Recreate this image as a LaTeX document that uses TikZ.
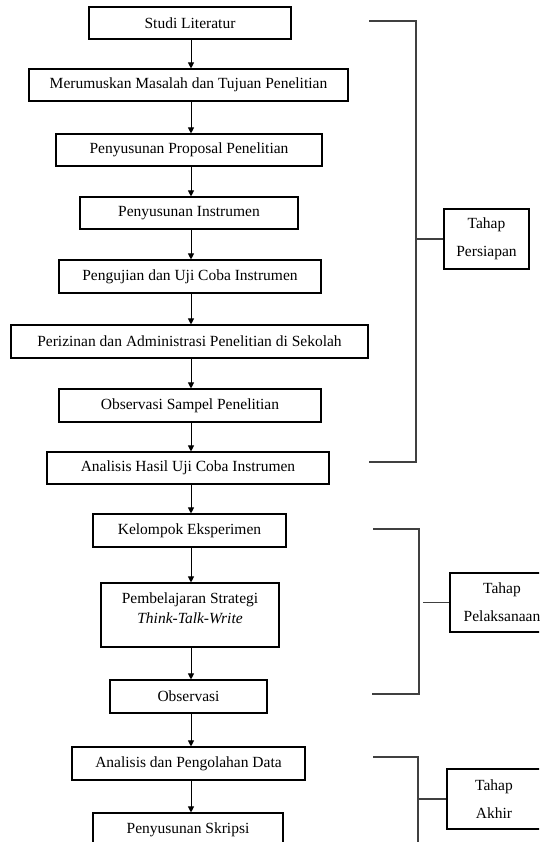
\documentclass[tikz,border=0pt]{standalone}
\usepackage{fontspec}
\setmainfont{Liberation Serif}
\usetikzlibrary{arrows.meta}
\begin{document}
\begin{tikzpicture}[x=1pt,y=-1pt,
  box/.style={draw=black,line width=1.1pt,inner sep=0pt,align=center,font=\fontsize{15.5}{28}\selectfont},
  arr/.style={draw=black,line width=0.9pt,-{Triangle[length=6pt,width=6pt]}},
  brk/.style={draw=black!75,line width=1.3pt}]
\useasboundingbox (0,0) rectangle (539,842);
\clip (0,0) rectangle (539,842);
\fill[white] (0,0) rectangle (539,842);
\coordinate (col) at (191,0);
% main column
\node[box,minimum width=202pt,minimum height=32pt] (n1) at (190,23) {Studi Literatur};
\node[box,minimum width=319pt,minimum height=32pt] (n2) at (188.5,85) {Merumuskan Masalah dan Tujuan Penelitian};
\node[box,minimum width=266pt,minimum height=32pt] (n3) at (189,150) {Penyusunan Proposal Penelitian};
\node[box,minimum width=218pt,minimum height=32pt] (n4) at (189,213) {Penyusunan Instrumen};
\node[box,minimum width=262pt,minimum height=33pt] (n5) at (190,276.5) {Pengujian dan Uji Coba Instrumen};
\node[box,minimum width=357pt,minimum height=33pt] (n6) at (189.5,341.5) {Perizinan dan Administrasi Penelitian di Sekolah};
\node[box,minimum width=262pt,minimum height=33pt] (n7) at (190,405.5) {Observasi Sampel Penelitian};
\node[box,minimum width=282pt,minimum height=32pt] (n8) at (188,468) {Analisis Hasil Uji Coba Instrumen};
\node[box,minimum width=193pt,minimum height=33pt] (n9) at (189.5,530.5) {Kelompok Eksperimen};
\node[box,minimum width=178pt,minimum height=64pt] (n10) at (190,615) {};
\node[align=center,inner sep=0pt,font=\fontsize{15.5}{20}\selectfont] (n10t) at (190,608) {Pembelajaran Strategi\\\textit{Think-Talk-Write}};
\node[box,minimum width=157pt,minimum height=33pt] (n11) at (188.5,696.5) {Observasi};
\node[box,minimum width=233pt,minimum height=33pt] (n12) at (188.5,763.5) {Analisis dan Pengolahan Data};
\node[box,minimum width=190pt,minimum height=33pt] (n13) at (188,829.5) {Penyusunan Skripsi};
% arrows
\foreach \a/\b in {n1/n2,n2/n3,n3/n4,n4/n5,n5/n6,n6/n7,n7/n8,n8/n9,n9/n10,n10/n11,n11/n12,n12/n13}
  \draw[arr] (\a.south -| col) -- (\b.north -| col);
% stage boxes
\node[box,minimum width=85pt,minimum height=60pt] (p1) at (486.5,239) {Tahap\\Persiapan};
\node[box,minimum width=104pt,minimum height=59pt] (p2) at (502,602.5) {Tahap\\Pelaksanaan};
\node[box,minimum width=94pt,minimum height=60pt] (p3) at (494,799) {Tahap\\Akhir};
% brackets
\coordinate (b1a) at (369,21);
\coordinate (b1v) at (416,0);
\coordinate (b1b) at (369,462);
\draw[brk] (b1a) -- (b1a -| b1v) -- (b1b -| b1v) -- (b1b);
\draw[brk] (p1.west -| b1v) -- (p1.west);
\coordinate (b2a) at (373,529);
\coordinate (b2v) at (419,0);
\coordinate (b2b) at (372,694);
\coordinate (b2t) at (423,0);
\draw[brk] (b2a) -- (b2a -| b2v) -- (b2b -| b2v) -- (b2b);
\draw[brk] (p2.west -| b2t) -- (p2.west);
\coordinate (b3a) at (373,757);
\coordinate (b3v) at (418,0);
\coordinate (b3b) at (418,850);
\draw[brk] (b3a) -- (b3a -| b3v) -- (b3b);
\draw[brk] (p3.west -| b3v) -- (p3.west);
\end{tikzpicture}
\end{document}
